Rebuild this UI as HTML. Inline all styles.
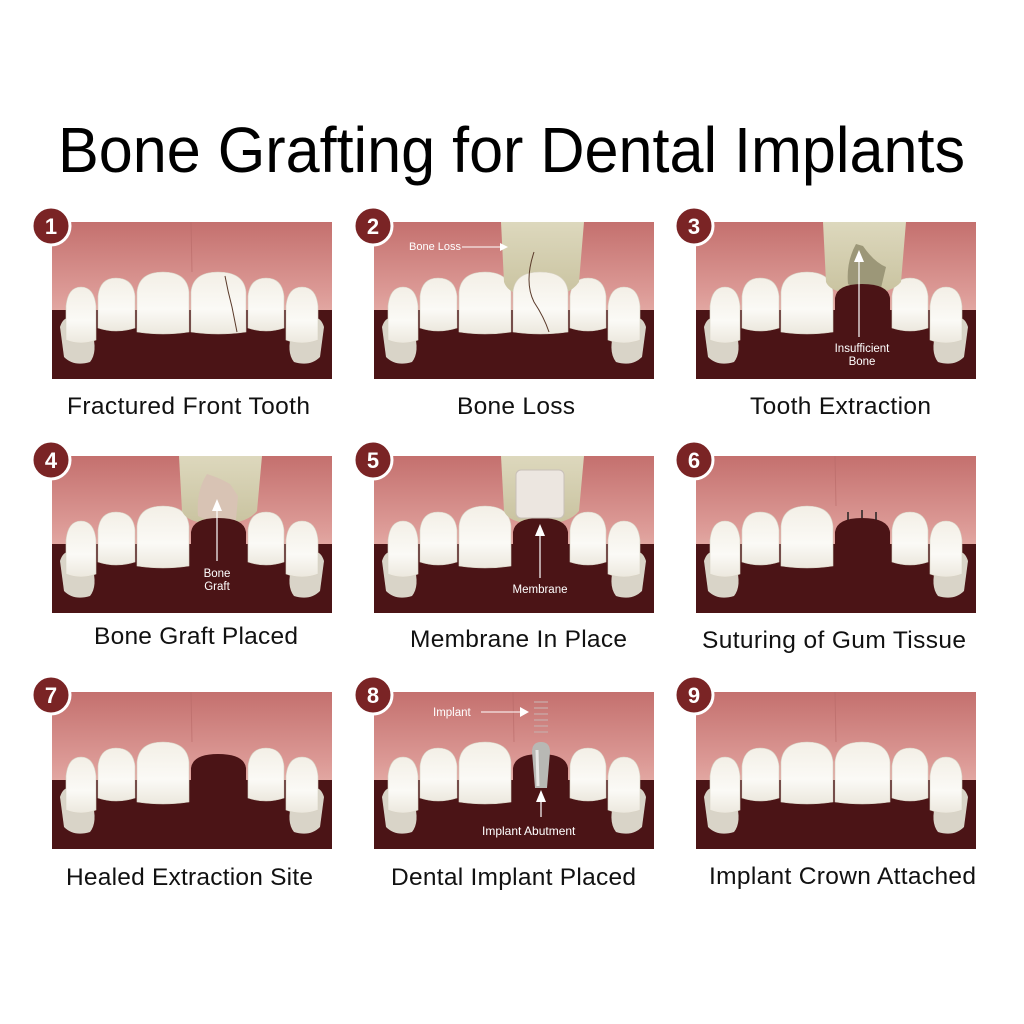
<!DOCTYPE html>
<html><head><meta charset="utf-8"><style>html,body{margin:0;padding:0;background:#fff}svg{display:block}</style></head>
<body>
<svg width="1024" height="1024" viewBox="0 0 1024 1024" xmlns="http://www.w3.org/2000/svg" font-family="Liberation Sans, Arial, sans-serif">
<defs>
<linearGradient id="gum" x1="0" y1="0" x2="0" y2="1">
<stop offset="0" stop-color="#c4706e"/><stop offset="0.45" stop-color="#dc9a96"/><stop offset="0.7" stop-color="#e9b7b0"/><stop offset="1" stop-color="#e6b0a8"/>
</linearGradient>
<linearGradient id="tooth" x1="0" y1="0" x2="0" y2="1">
<stop offset="0" stop-color="#f3efe6"/><stop offset="0.6" stop-color="#fbfaf6"/><stop offset="1" stop-color="#ece8de"/>
</linearGradient>
<linearGradient id="bone" x1="0" y1="0" x2="0" y2="1">
<stop offset="0" stop-color="#ddd8bd"/><stop offset="1" stop-color="#c9c3a0"/>
</linearGradient>
<g id="base">
<rect x="0" y="0" width="280" height="157" fill="url(#gum)"/>
<rect x="0" y="88" width="280" height="69" fill="#4b1416"/>
<path d="M8,105 Q12,92 22,98 L40,110 Q46,130 38,140 Q22,145 12,135 Z" fill="#d9d4c8"/>
<path d="M272,105 Q268,92 258,98 L240,110 Q234,130 242,140 Q258,145 268,135 Z" fill="#d9d4c8"/>
<path d="M14,118 L14,84 Q16,65 29,65 Q42,65 44,84 L44,118 Q29,124 14,118 Z" fill="url(#tooth)" stroke="#d8d2c4" stroke-width="0.6"/>
<path d="M46,106 L46,74 Q48,56 64,56 Q81,56 83,74 L83,106 Q64,112 46,106 Z" fill="url(#tooth)" stroke="#d8d2c4" stroke-width="0.6"/>
<path d="M85,110 L85,70 Q87,50 111,50 Q135,50 137,70 L137,110 Q111,114 85,110 Z" fill="url(#tooth)" stroke="#d8d2c4" stroke-width="0.6"/>
<path d="M196,106 L196,74 Q198,56 214,56 Q230,56 232,74 L232,106 Q214,112 196,106 Z" fill="url(#tooth)" stroke="#d8d2c4" stroke-width="0.6"/>
<path d="M234,118 L234,84 Q236,65 250,65 Q264,65 266,84 L266,118 Q250,124 234,118 Z" fill="url(#tooth)" stroke="#d8d2c4" stroke-width="0.6"/>
<path d="M139,0 L140,50" stroke="#b86a68" stroke-width="1" opacity="0.6"/>
</g>
<path id="ctooth" d="M139,110 L139,70 Q141,50 166,50 Q192,50 194,70 L194,110 Q166,114 139,110 Z" fill="url(#tooth)" stroke="#d8d2c4" stroke-width="0.6"/>
<path id="gap" d="M139,157 L139,76 Q141,62 166,62 Q192,62 194,76 L194,157 Z" fill="#4b1416"/>
<g id="badge"><circle cx="0" cy="0" r="19" fill="#7a2425" stroke="#fff" stroke-width="3"/></g>
</defs>

<text x="58" y="172" font-size="64" textLength="907" lengthAdjust="spacingAndGlyphs" fill="#000">Bone Grafting for Dental Implants</text>

<g transform="translate(52,222)">
<use href="#base"/><use href="#ctooth"/>
<path d="M173,54 Q176,70 180,85 Q183,100 185,110" stroke="#5a3a2a" stroke-width="1" fill="none"/>
</g>
<g transform="translate(374,222)">
<use href="#base"/>
<path d="M127,0 L210,0 L205,60 Q195,75 166,75 Q135,75 130,60 Z" fill="url(#bone)"/>
<use href="#ctooth"/>
<path d="M160,30 Q150,60 160,80 Q170,95 175,110" stroke="#5a3a2a" stroke-width="1" fill="none"/>
<text x="35" y="28" font-size="11" fill="#fff">Bone Loss</text>
<path d="M88,25 L128,25" stroke="#fff" stroke-width="1"/><path d="M134,25 L126,21 L126,29 Z" fill="#fff"/>
</g>
<g transform="translate(696,222)">
<use href="#base"/>
<path d="M127,0 L210,0 L205,60 Q195,72 166,72 Q135,72 130,60 Z" fill="url(#bone)"/>
<path d="M152,62 Q150,40 160,22 L167,24 Q178,40 190,45 L185,66 Q165,72 152,62 Z" fill="#9c9778"/>
<use href="#gap"/>
<path d="M163,28 L158,40 L168,40 Z" fill="#fff"/><path d="M163,40 L163,115" stroke="#fff" stroke-width="1.2"/>
<text x="166" y="130" font-size="11.5" fill="#fff" text-anchor="middle">Insufficient</text>
<text x="166" y="143" font-size="11.5" fill="#fff" text-anchor="middle">Bone</text>
</g>
<g transform="translate(52,456)">
<use href="#base"/>
<path d="M127,0 L210,0 L205,55 Q195,68 166,68 Q135,68 130,55 Z" fill="url(#bone)"/>
<path d="M146,60 Q144,35 155,18 Q168,22 178,28 L186,40 L184,64 Q165,70 146,60 Z" fill="#d8c3b4"/>
<use href="#gap"/>
<path d="M165,43 L160,55 L170,55 Z" fill="#fff"/><path d="M165,55 L165,105" stroke="#fff" stroke-width="1.2"/>
<text x="165" y="121" font-size="11.5" fill="#fff" text-anchor="middle">Bone</text>
<text x="165" y="134" font-size="11.5" fill="#fff" text-anchor="middle">Graft</text>
</g>
<g transform="translate(374,456)">
<use href="#base"/>
<path d="M127,0 L210,0 L205,55 Q195,68 166,68 Q135,68 130,55 Z" fill="url(#bone)"/>
<use href="#gap"/>
<rect x="142" y="14" width="48" height="48" rx="5" fill="#ece6e0" stroke="#c8c0b8"/>
<path d="M166,68 L161,80 L171,80 Z" fill="#fff"/><path d="M166,80 L166,122" stroke="#fff" stroke-width="1.2"/>
<text x="166" y="137" font-size="11.5" fill="#fff" text-anchor="middle">Membrane</text>
</g>
<g transform="translate(696,456)">
<use href="#base"/><use href="#gap"/>
<path d="M152,56 L152,64 M166,54 L166,62 M180,56 L180,64" stroke="#222" stroke-width="1.5"/>
</g>
<g transform="translate(52,692)">
<use href="#base"/><use href="#gap"/>
</g>
<g transform="translate(374,692)">
<use href="#base"/><use href="#gap"/>
<g stroke="#c9a4a2" stroke-width="1.5"><path d="M160,10 H174 M160,16 H174 M160,22 H174 M160,28 H174 M160,34 H174 M160,40 H174"/></g>
<path d="M158,60 Q158,50 167,50 Q176,50 176,60 L173,96 L161,96 Z" fill="#b8b8b4"/>
<path d="M163,58 L164,94" stroke="#e8e8e6" stroke-width="3"/>
<text x="59" y="24" font-size="11.5" fill="#fff">Implant</text>
<path d="M107,20 L147,20" stroke="#fff" stroke-width="1"/><path d="M155,20 L146,15 L146,25 Z" fill="#fff"/>
<path d="M167,98 L162,110 L172,110 Z" fill="#fff"/><path d="M167,110 L167,125" stroke="#fff" stroke-width="1.2"/>
<text x="108" y="143" font-size="12" fill="#fff">Implant Abutment</text>
</g>
<g transform="translate(696,692)">
<use href="#base"/><use href="#ctooth"/>
</g>

<g font-size="22" font-weight="bold" fill="#fff" text-anchor="middle">
<use href="#badge" x="51" y="226"/><text x="51" y="234">1</text>
<use href="#badge" x="373" y="226"/><text x="373" y="234">2</text>
<use href="#badge" x="694" y="226"/><text x="694" y="234">3</text>
<use href="#badge" x="51" y="460"/><text x="51" y="468">4</text>
<use href="#badge" x="373" y="460"/><text x="373" y="468">5</text>
<use href="#badge" x="694" y="460"/><text x="694" y="468">6</text>
<use href="#badge" x="51" y="695"/><text x="51" y="703">7</text>
<use href="#badge" x="373" y="695"/><text x="373" y="703">8</text>
<use href="#badge" x="694" y="695"/><text x="694" y="703">9</text>
</g>

<g font-size="24.5" fill="#111" lengthAdjust="spacingAndGlyphs">
<text x="67" y="414" textLength="243">Fractured Front Tooth</text>
<text x="457" y="414" textLength="118">Bone Loss</text>
<text x="750" y="414" textLength="181">Tooth Extraction</text>
<text x="94" y="644" textLength="204">Bone Graft Placed</text>
<text x="410" y="647" textLength="217">Membrane In Place</text>
<text x="702" y="648" textLength="264">Suturing of Gum Tissue</text>
<text x="66" y="885" textLength="247">Healed Extraction Site</text>
<text x="391" y="885" textLength="245">Dental Implant Placed</text>
<text x="709" y="884" textLength="267">Implant Crown Attached</text>
</g>
</svg>
</body></html>
